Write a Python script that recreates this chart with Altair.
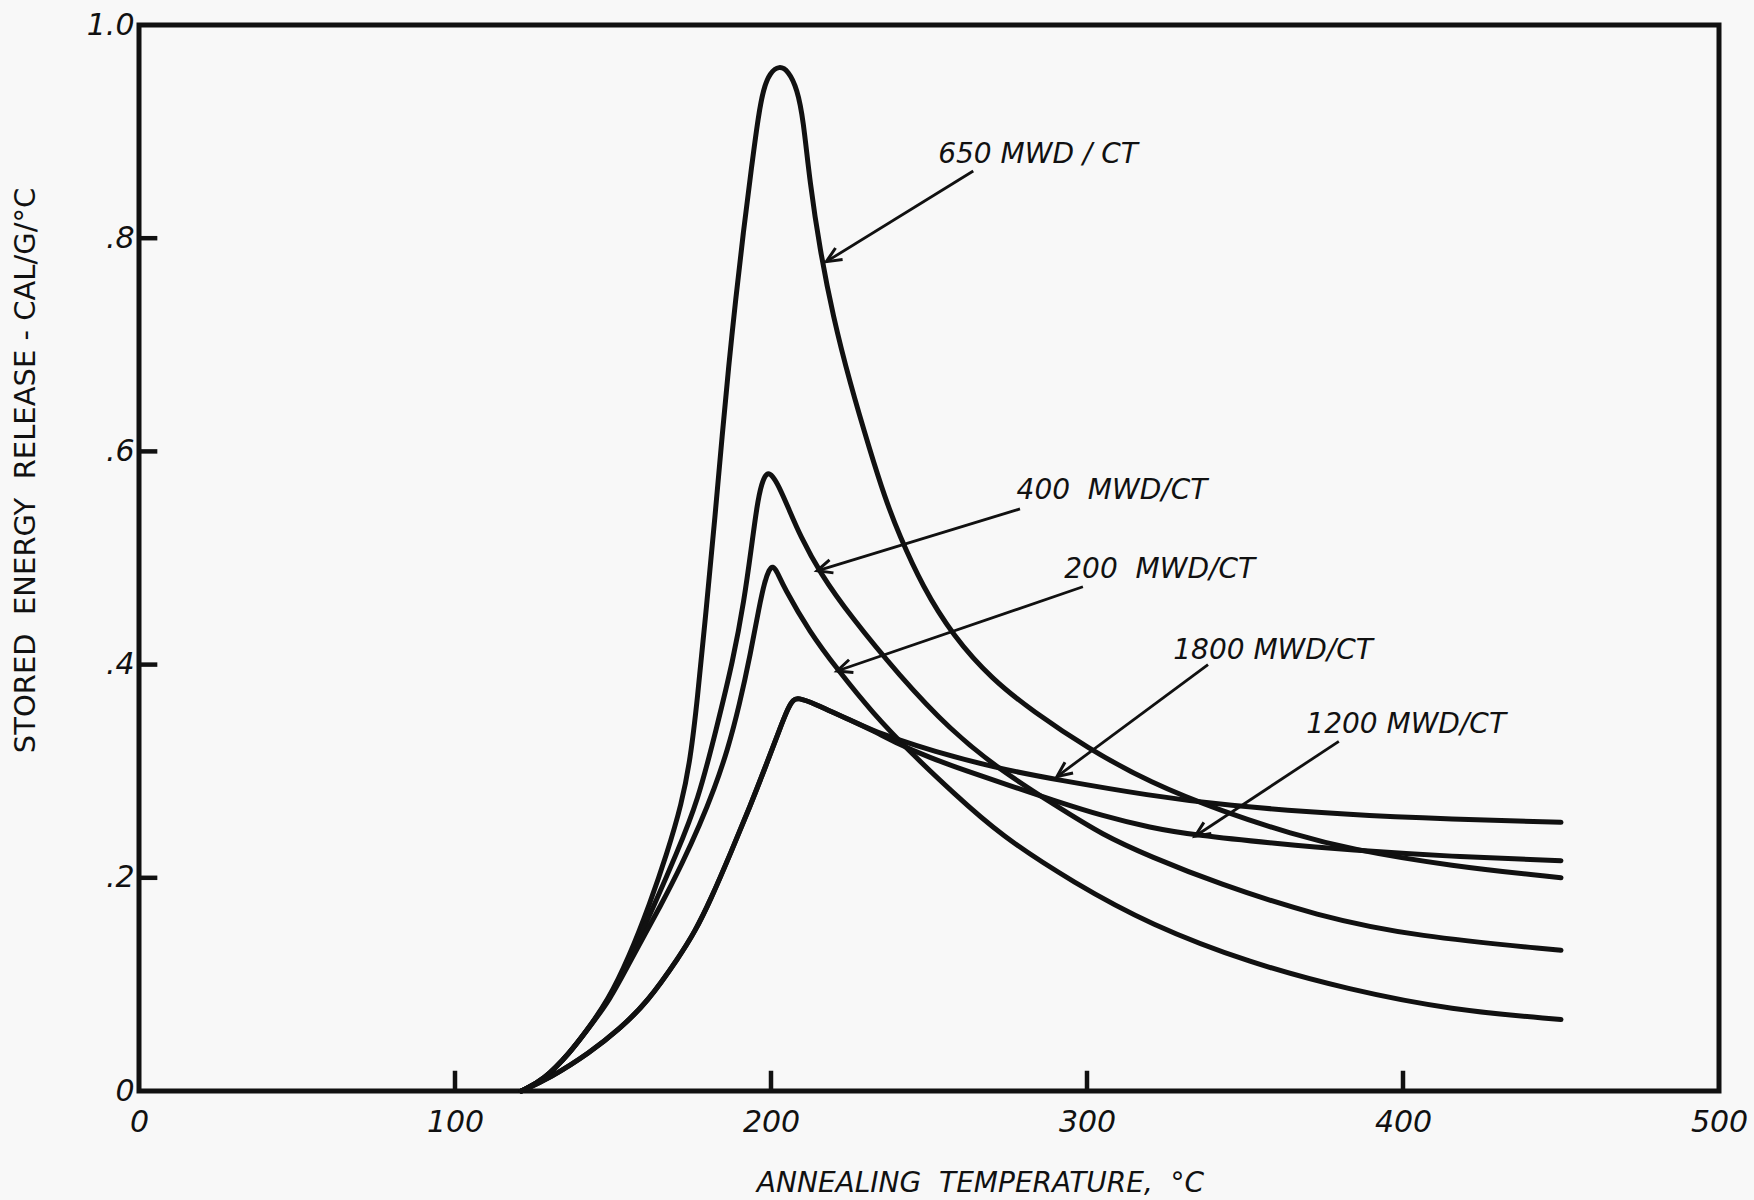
import math
import altair as alt
import pandas as pd

# ---------------- data ----------------
x650 = [121, 128, 136.4, 142, 148.4, 155, 161.7, 167, 171.8, 174.5, 176.6, 179.6, 182.3, 184.6, 186.6,
        188.8, 191.2, 193.9, 196.0, 197.6, 199.6, 202.6, 205.5, 208.3, 210.2, 212.3, 215.5, 219.6,
        225.0, 231.3, 236.0, 240.5, 248.0, 257.6, 270.0, 283.0, 300, 320, 343, 365, 383, 415, 450]
y650 = [0, 0.010, 0.036, 0.058, 0.085, 0.125, 0.176, 0.222, 0.270, 0.312, 0.364, 0.455, 0.539, 0.617,
        0.680, 0.742, 0.805, 0.868, 0.915, 0.940, 0.955, 0.962, 0.957, 0.940, 0.912, 0.852, 0.789,
        0.727, 0.664, 0.601, 0.557, 0.522, 0.473, 0.427, 0.386, 0.356, 0.322, 0.289, 0.262, 0.241,
        0.227, 0.211, 0.200]

x400 = [121, 128, 136.4, 142, 148.6, 155.5, 163.3, 170, 176.9, 182.9, 188.0, 191.5, 193.8, 195.6,
        197.0, 198.7, 200.5, 202.2, 205.5, 209.2, 215.5, 225.0, 240.8, 256.6, 272.5, 290, 305, 320,
        341, 373, 404, 450]
y400 = [0, 0.010, 0.036, 0.058, 0.085, 0.125, 0.176, 0.222, 0.272, 0.342, 0.404, 0.460, 0.510, 0.550,
        0.570, 0.581, 0.577, 0.569, 0.547, 0.521, 0.486, 0.446, 0.389, 0.339, 0.301, 0.268, 0.240,
        0.220, 0.195, 0.164, 0.145, 0.132]

x200 = [121, 128, 136.4, 142, 149, 156, 165.5, 172, 177.5, 182.0, 186.3, 190.0, 193.5, 196.3, 198.0,
        199.4, 200.5, 202.0, 203.8, 212.3, 221.2, 232, 245, 257.6, 272.5, 296, 320, 351.6, 383, 415, 450]
y200 = [0, 0.010, 0.036, 0.058, 0.085, 0.125, 0.176, 0.214, 0.250, 0.283, 0.320, 0.362, 0.410, 0.455,
        0.478, 0.489, 0.493, 0.487, 0.474, 0.430, 0.395, 0.355, 0.315, 0.280, 0.240, 0.195, 0.156,
        0.120, 0.095, 0.076, 0.067]

# 1800 and 1200 share the same rise and peak, then split near 236 C
x_shared = [121, 130, 142.7, 152, 160.8, 171, 176.0, 180.7, 187.5, 193.5, 198.5, 202.8, 205.5, 207.0,
            208.5, 213.3, 225.0, 232.3]
y_shared = [0, 0.012, 0.036, 0.058, 0.083, 0.126, 0.150, 0.178, 0.225, 0.268, 0.306, 0.340, 0.360,
            0.367, 0.369, 0.364, 0.348, 0.338]
x1800_tail = [240, 250, 272.5, 290.5, 320, 343, 383, 415, 450]
y1800_tail = [0.330, 0.320, 0.302, 0.292, 0.277, 0.268, 0.259, 0.255, 0.252]
x1200_tail = [240, 250, 262, 275, 290, 305, 320, 334, 360, 383, 415, 450]
y1200_tail = [0.326, 0.313, 0.300, 0.287, 0.272, 0.258, 0.247, 0.240, 0.232, 0.226, 0.220, 0.216]

x_tick_values = [0, 100, 200, 300, 400, 500]
y_tick_values = [0, 0.2, 0.4, 0.6, 0.8, 1.0]
x_inner_ticks = [100, 200, 300, 400]
y_inner_ticks = [0.2, 0.4, 0.6, 0.8]

NB = "\u00a0"
labels = ["650 MWD / CT", "400" + NB + NB + "MWD/CT", "200" + NB + NB + "MWD/CT", "1800 MWD/CT", "1200 MWD/CT"]
label_x = [284.5, 307.9, 323.0, 358.9, 401.0]
label_y = [0.878, 0.563, 0.489, 0.413, 0.343]
arrow_sx = [264.0, 278.8, 298.7, 338.3, 379.7]
arrow_sy = [0.863, 0.546, 0.473, 0.400, 0.328]
arrow_tx = [217.5, 214.6, 220.9, 290.5, 334.2]
arrow_ty = [0.778, 0.488, 0.394, 0.295, 0.239]

# ---------------- layout ----------------
W, H = 1580, 1066
XMAX, YMAX = 500.0, 1.0
FONT = "DejaVu Sans"
INK = "#111111"
BG = "#f8f8f8"

series = [
    ("650", x650, y650),
    ("400", x400, y400),
    ("200", x200, y200),
    ("1800", x_shared + x1800_tail, y_shared + y1800_tail),
    ("1200", x_shared + x1200_tail, y_shared + y1200_tail),
]
rows = []
for name, xs_, ys_ in series:
    for a, b in zip(xs_, ys_):
        rows.append({"series": name, "x": a, "y": b})
curves = pd.DataFrame(rows)

xscale = alt.Scale(domain=[0, XMAX], nice=False, zero=False)
yscale = alt.Scale(domain=[0, YMAX], nice=False, zero=False)

X_TITLE = "ANNEALING" + NB + NB + "TEMPERATURE," + NB + NB + "°C"
Y_TITLE = "STORED" + NB + NB + "ENERGY" + NB + NB + "RELEASE - CAL/G/°C"

x_axis = alt.Axis(
    values=x_tick_values, ticks=False, domain=False, grid=False,
    labelFont=FONT, labelFontSize=30, labelFontStyle="italic", labelColor=INK,
    labelPadding=16, labelFlush=False, labelOverlap=False, labelBound=False,
    title=X_TITLE, titleFont=FONT, titleFontSize=28,
    titleFontStyle="italic", titleFontWeight="normal", titleColor=INK,
    titleX=841, titleY=92, titleAlign="center", titleBaseline="middle",
)
y_axis = alt.Axis(
    values=y_tick_values, ticks=False, domain=False, grid=False,
    labelExpr="datum.value == 0 ? '0' : (datum.value == 1 ? '1.0' : replace(format(datum.value, '.1f'), '0.', '.'))",
    labelFont=FONT, labelFontSize=30, labelFontStyle="italic", labelColor=INK,
    labelPadding=5, labelFlush=False, labelOverlap=False, labelBound=False,
    labelAlign="right", labelBaseline="middle",
    title=Y_TITLE, titleFont=FONT, titleFontSize=29,
    titleFontWeight="normal", titleColor=INK, titleAngle=270,
    titleX=-114, titleY=445, titleAlign="center", titleBaseline="middle",
)


def X(field):
    return alt.X(field, scale=xscale, axis=x_axis, title=X_TITLE)


def Y(field):
    return alt.Y(field, scale=yscale, axis=y_axis, title=Y_TITLE)


lines = alt.Chart(curves).mark_line(
    color=INK, strokeWidth=5, interpolate="basis", strokeCap="round", strokeJoin="round"
).encode(
    x=X("x:Q"),
    y=Y("y:Q"),
    detail="series:N",
    order="x:Q",
)

# inward tick marks
xt = pd.DataFrame({"x": x_inner_ticks, "y": [0.0] * len(x_inner_ticks), "y2": [0.019] * len(x_inner_ticks)})
yt = pd.DataFrame({"y": y_inner_ticks, "x": [0.0] * len(y_inner_ticks), "x2": [5.8] * len(y_inner_ticks)})

xticks = alt.Chart(xt).mark_rule(color=INK, strokeWidth=4.5).encode(
    x=X("x:Q"), y=Y("y:Q"), y2="y2:Q",
)
yticks = alt.Chart(yt).mark_rule(color=INK, strokeWidth=4.5).encode(
    y=Y("y:Q"), x=X("x:Q"), x2="x2:Q",
)

# annotations
px_x = W / XMAX
px_y = H / YMAX
angles = []
for sx, sy, tx, ty in zip(arrow_sx, arrow_sy, arrow_tx, arrow_ty):
    dx = (tx - sx) * px_x
    dy = -(ty - sy) * px_y
    angles.append(math.degrees(math.atan2(dx, -dy)) % 360)

ann = pd.DataFrame({
    "label": labels, "lx": label_x, "ly": label_y,
    "sx": arrow_sx, "sy": arrow_sy, "tx": arrow_tx, "ty": arrow_ty, "ang": angles,
})

shafts = alt.Chart(ann).mark_rule(color=INK, strokeWidth=2.8).encode(
    x=X("sx:Q"), y=Y("sy:Q"), x2="tx:Q", y2="ty:Q",
)
heads = alt.Chart(ann).mark_point(
    shape="M -0.45 1 L 0 0 L 0.45 1", filled=False, stroke=INK, strokeWidth=3, size=900, opacity=1
).encode(
    x=X("tx:Q"), y=Y("ty:Q"),
    angle=alt.Angle("ang:Q", scale=None),
)
texts = alt.Chart(ann).mark_text(
    font=FONT, fontSize=28, fontStyle="italic", color=INK, align="center", baseline="middle"
).encode(
    x=X("lx:Q"), y=Y("ly:Q"),
    text="label:N",
)

chart = alt.layer(lines, xticks, yticks, shafts, heads, texts).properties(
    width=W, height=H,
    autosize=alt.AutoSizeParams(type="none"),
    padding={"left": 139, "top": 25, "right": 35, "bottom": 109},
    background=BG,
).configure_view(
    stroke=INK, strokeWidth=5, fill=BG
)

chart.save("out.html", embed_options={"renderer": "svg", "actions": False})
